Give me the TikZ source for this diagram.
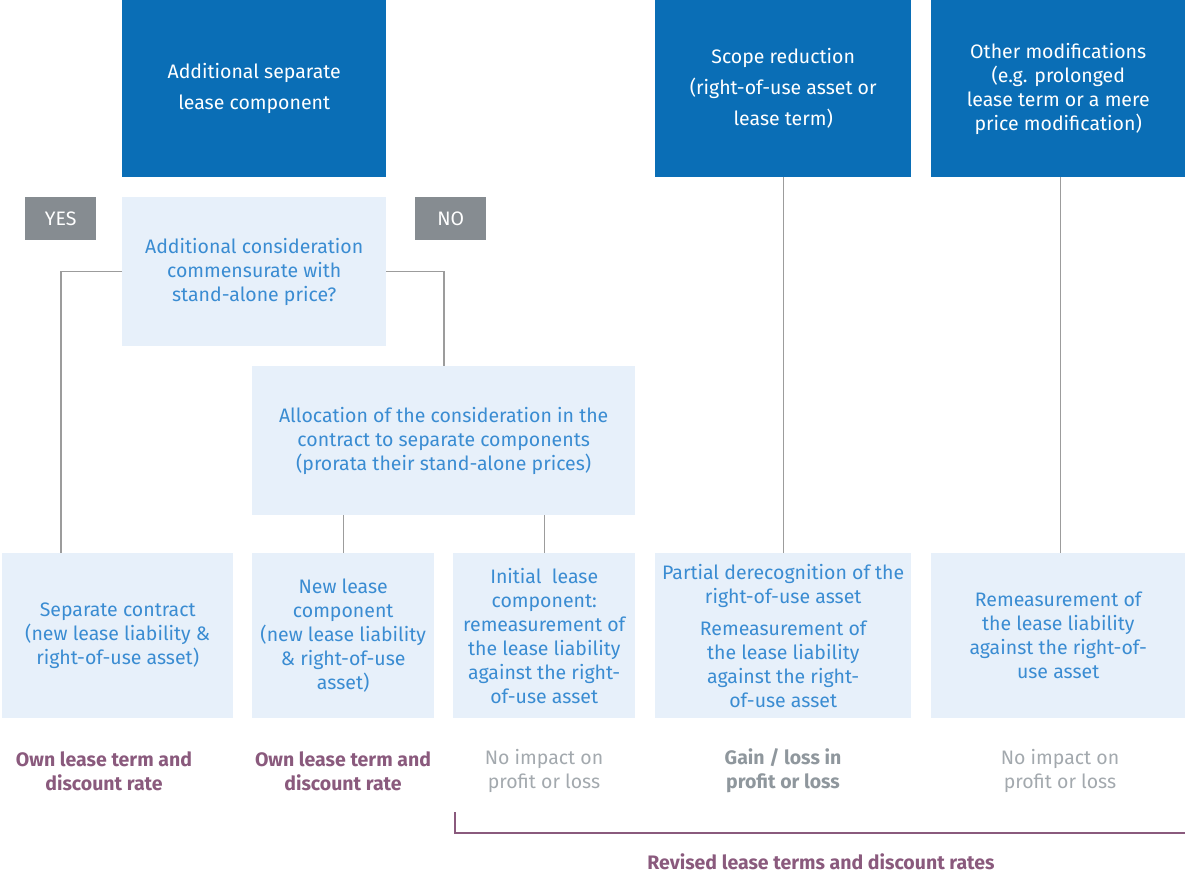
\documentclass[tikz,border=0pt]{standalone}
\usepackage{fontspec}
\setmainfont{Fira Sans}
\usetikzlibrary{positioning}
\definecolor{deepblue}{HTML}{0A6EB6}
\definecolor{paleblue}{HTML}{E7F0FA}
\definecolor{inkblue}{HTML}{3A8CD2}
\definecolor{taggray}{HTML}{868C91}
\definecolor{plum}{HTML}{8A5A7D}
\definecolor{stonegray}{HTML}{8F979D}
\definecolor{mistgray}{HTML}{A3A9AE}
\definecolor{wiregray}{HTML}{9C9C9C}
\begin{document}
\begin{tikzpicture}[x=1pt,y=-1pt,
  box/.style={anchor=north west, inner sep=0pt, align=center, font=\fontsize{19.5}{24}\selectfont},
  headbox/.style={box, fill=deepblue, text=white},
  askbox/.style={box, fill=paleblue, text=inkblue},
  tagbox/.style={box, fill=taggray, text=white, minimum width=71, minimum height=43},
  owntext/.style={align=center, text=plum, font=\fontsize{19.5}{24}\selectfont\bfseries},
  gaintext/.style={align=center, text=stonegray, font=\fontsize{19.5}{24}\selectfont\bfseries},
  nulltext/.style={align=center, text=mistgray, font=\fontsize{19.5}{24}\selectfont},
  link/.style={draw=wiregray, line width=1.1pt},
  brace/.style={draw=plum, line width=1.1pt}]
\useasboundingbox (0,0) rectangle (1185,877);
% top row
\node[headbox, minimum width=264, minimum height=177] (add) at (122,0) {Additional separate\\[7pt]lease component};
\node[headbox, minimum width=256, minimum height=177] (scope) at (655,0) {Scope reduction\\[7pt](right-of-use asset or\\[7pt]lease term)};
\node[headbox, minimum width=254, minimum height=177] (other) at (931,0) {Other modifications\\(e.g. prolonged\\lease term or a mere\\price modification)};
% decision
\node[tagbox] (yes) at (25,197) {YES};
\node[tagbox] (no) at (415,197) {NO};
\node[askbox, minimum width=264, minimum height=149] (ask) at (122,197) {Additional consideration\\commensurate with\\stand-alone price?};
\node[askbox, minimum width=383, minimum height=149] (alloc) at (252,366) {Allocation of the consideration in the\\contract to separate components\\(prorata their stand-alone prices)};
% outcomes
\node[askbox, minimum width=231, minimum height=165] (sep) at (2,553) {Separate contract\\(new lease liability \&\\right-of-use asset)};
\node[askbox, minimum width=182, minimum height=165] (new) at (252,553) {New lease\\component\\(new lease liability\\\& right-of-use\\asset)};
\node[askbox, minimum width=182, minimum height=165] (init) at (453,553) {Initial\ \ lease\\component:\\remeasurement of\\the lease liability\\against the right-\\of-use asset};
\node[askbox, minimum width=256, minimum height=165] (part) at (655,553) {Partial derecognition of the\\right-of-use asset\\[8pt]Remeasurement of\\the lease liability\\against the right-\\of-use asset};
\node[askbox, minimum width=254, minimum height=165] (remeas) at (931,553) {Remeasurement of\\the lease liability\\against the right-of-\\use asset};
% effects
\node[owntext] (own1) at (104,771) {Own lease term and\\discount rate};
\node[owntext] (own2) at (343,771) {Own lease term and\\discount rate};
\node[nulltext] (null1) at (544,771) {No impact on\\profit or loss};
\node[gaintext] (gain) at (783,771) {Gain / loss in\\profit or loss};
\node[nulltext] (null2) at (1060,771) {No impact on\\profit or loss};
\node[owntext] (revised) at (821,862) {Revised lease terms and discount rates};
% connectors
\draw[link] (ask.west) -| ([xshift=59pt]sep.north west);
\draw[link] (ask.east) -| ([xshift=192pt]alloc.north west);
\draw[link] (new.north |- alloc.south) -- (new.north);
\draw[link] (init.north |- alloc.south) -- (init.north);
\draw[link] (scope.south) -- (part.north);
\draw[link] ([xshift=2pt]other.south) -- ([xshift=2pt]remeas.north);
\coordinate (bstart) at (455,812);
\coordinate (bend) at (1185,833);
\draw[brace] (bstart) |- (bend);
\end{tikzpicture}
\end{document}
